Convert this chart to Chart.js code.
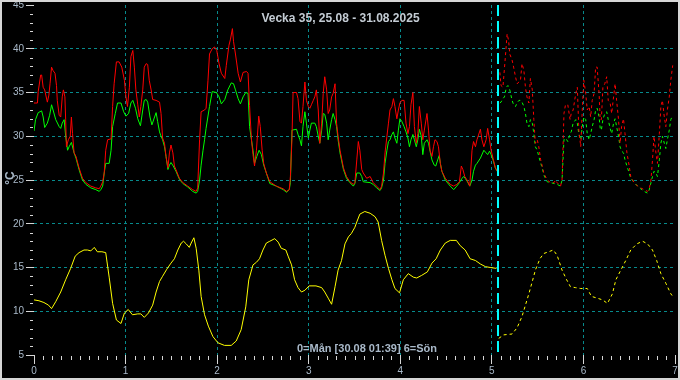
<!DOCTYPE html>
<html>
<head>
<meta charset="utf-8">
<script src="https://cdn.jsdelivr.net/npm/chart.js@4/dist/chart.umd.min.js"></script>
<style>
html, body { margin: 0; padding: 0; background: #000; }
#frame { width: 680px; height: 380px; box-sizing: border-box; border: 2px solid #d6d6d6; background: #000; }
canvas { display: block; }
</style>
</head>
<body>
<div id="frame"><canvas id="weekChart" width="676" height="376"></canvas></div>
<script>
// values as [hour since Monday 00:00, °C]
const redMeasured = [[0,33.8],[0.9,33.8],[1.1,35.1],[1.75,37.0],[2.0,37.0],[2.4,35.6],[2.8,35.3],[3.5,33.9],[3.9,34.7],[4.2,36.0],[4.6,37.9],[5.0,37.5],[5.5,37.2],[5.9,35.8],[6.1,34.1],[6.6,32.4],[7.0,32.2],[7.4,34.5],[7.7,35.3],[8.1,34.5],[8.3,31.9],[8.5,28.8],[9.0,29.6],[9.5,30.0],[9.8,32.2],[10.1,30.3],[10.5,28.1],[11.0,27.7],[11.8,26.4],[12.7,25.2],[13.6,24.7],[14.9,24.3],[16.2,24.1],[17.1,24.0],[17.5,24.3],[18.0,24.8],[18.4,25.8],[18.8,28.4],[19.3,29.6],[20.2,29.7],[20.6,33.4],[21.0,36.0],[21.6,38.5],[22.3,38.5],[23.0,37.9],[23.7,36.4],[24.1,34.5],[24.5,33.4],[25.0,35.6],[25.4,39.1],[25.9,39.8],[26.3,37.9],[26.7,35.3],[27.2,33.6],[27.6,32.2],[28.0,33.4],[28.5,35.3],[28.9,37.9],[29.4,38.3],[29.8,38.2],[30.2,36.4],[30.7,35.3],[31.1,34.2],[32.0,34.1],[32.9,33.9],[33.3,32.6],[33.7,29.8],[34.2,29.2],[34.6,27.7],[35.1,26.4],[35.5,28.1],[35.9,29.0],[36.4,28.1],[36.8,26.6],[37.2,26.2],[38.1,25.2],[39.0,24.7],[40.3,24.3],[41.6,23.9],[42.5,23.7],[42.9,24.1],[43.4,29.6],[43.8,32.8],[44.7,33.0],[45.1,33.2],[45.6,36.4],[46.0,39.4],[46.7,40.0],[47.3,40.2],[47.9,39.8],[48.5,38.3],[49.1,37.2],[50.0,36.6],[50.4,38.1],[51.1,40.4],[51.5,41.1],[52.0,42.3],[52.3,40.8],[52.8,39.4],[53.5,37.2],[54.1,36.2],[54.8,37.3],[55.7,37.4],[56.1,37.2],[56.5,33.5],[57.0,29.6],[57.4,27.9],[57.8,26.6],[58.3,28.4],[58.9,32.3],[59.3,31.1],[59.8,28.4],[60.2,26.9],[60.9,25.8],[61.8,24.8],[63.5,24.3],[65.3,24.0],[66.2,23.7],[66.9,23.9],[67.2,25.4],[67.6,29.6],[67.9,35.0],[68.8,35.0],[69.2,34.3],[69.7,31.7],[70.1,31.5],[70.5,33.4],[71.0,36.2],[71.4,34.1],[71.9,33.4],[72.3,33.2],[72.7,33.6],[73.2,34.1],[73.6,34.5],[74.0,35.3],[74.5,33.0],[74.9,29.2],[75.4,31.5],[75.8,34.9],[76.2,36.8],[76.7,35.3],[77.1,32.6],[77.5,33.0],[78.0,34.5],[78.4,34.9],[78.9,36.0],[79.3,31.5],[79.7,30.0],[80.2,28.4],[81.1,26.4],[81.9,25.4],[82.8,24.8],[83.7,24.5],[84.1,24.7],[84.6,27.3],[85.0,29.4],[85.4,28.4],[85.9,26.2],[86.3,25.8],[87.2,25.2],[88.1,25.4],[88.9,24.7],[89.8,24.3],[90.7,23.9],[91.1,24.3],[91.6,25.8],[92.0,28.1],[92.5,30.0],[92.9,31.5],[93.3,33.0],[93.8,33.4],[94.2,34.3],[94.6,33.4],[95.1,32.0],[95.5,33.0],[95.9,33.8],[96.4,34.1],[97.0,34.1],[97.5,31.5],[98.0,30.3],[98.4,31.1],[98.8,33.6],[99.3,35.0],[99.7,31.1],[100.2,29.2],[100.6,30.3],[101.0,33.4],[101.5,31.5],[101.9,29.6],[102.3,30.7],[103.0,32.6],[103.4,30.7],[103.8,28.4],[104.3,27.7],[104.7,28.8],[105.1,29.6],[105.6,29.4],[106.0,28.8],[106.5,26.9],[106.9,26.0],[107.8,25.2],[109.1,24.5],[110.0,24.3],[110.8,24.5],[111.5,24.8],[112.0,26.6],[112.4,26.2],[112.9,25.4],[113.5,25.0],[114.2,24.3],[114.8,28.4],[115.2,29.4],[115.7,28.8],[116.1,29.6],[117.0,30.8],[117.4,29.6],[117.9,28.8],[118.5,29.6],[118.9,30.9],[119.4,29.6],[119.8,28.4],[120.3,27.5],[120.9,26.4],[121.4,26.0]];

const greenMeasured = [[0,30.6],[0.4,31.9],[1.1,32.7],[2.0,32.9],[2.4,32.2],[2.8,31.0],[3.5,31.5],[4.1,32.4],[4.6,33.6],[5.0,33.0],[5.7,31.9],[6.6,31.1],[7.0,30.9],[7.4,31.5],[7.9,31.9],[8.3,30.0],[8.8,28.4],[9.2,28.8],[9.8,29.3],[10.5,28.1],[11.0,27.5],[11.8,26.2],[12.7,25.0],[13.6,24.5],[14.9,24.1],[16.2,23.9],[17.1,23.7],[17.5,23.9],[18.0,24.3],[18.4,25.8],[18.8,26.9],[19.7,26.9],[20.2,28.4],[20.6,31.1],[21.3,32.6],[21.9,33.8],[22.8,33.8],[23.5,32.8],[24.1,32.3],[24.8,32.6],[25.4,33.8],[25.9,34.1],[26.6,33.2],[27.2,32.0],[27.9,31.2],[28.5,33.0],[28.9,34.1],[29.4,34.2],[29.8,33.9],[30.4,32.2],[30.9,31.3],[31.6,32.2],[32.0,32.7],[32.4,31.7],[32.9,30.5],[33.3,30.0],[33.7,29.6],[34.2,28.8],[34.6,27.7],[35.1,26.2],[35.5,26.7],[35.9,27.0],[36.5,26.6],[37.2,26.0],[38.1,25.1],[39.0,24.6],[40.3,24.2],[41.6,23.7],[42.5,23.5],[42.9,23.7],[43.4,25.0],[43.8,26.7],[44.3,28.4],[44.7,29.6],[45.1,30.9],[46.0,33.4],[46.7,35.1],[47.8,35.0],[48.5,34.5],[49.1,33.7],[50.0,34.2],[50.8,35.3],[51.7,36.1],[52.3,36.0],[52.8,35.3],[53.5,34.3],[54.1,33.7],[54.8,34.5],[55.5,35.0],[56.1,34.9],[56.5,31.1],[57.0,29.6],[57.4,28.4],[57.8,26.9],[58.4,27.7],[59.0,28.4],[59.6,27.9],[60.2,26.7],[61.8,24.6],[63.5,24.3],[65.3,23.9],[66.2,23.6],[66.9,23.9],[67.2,24.7],[67.6,30.7],[68.8,30.8],[69.2,30.2],[69.7,29.6],[70.1,28.9],[70.5,31.1],[71.0,32.8],[71.4,31.5],[71.9,29.8],[72.3,30.7],[72.7,31.5],[73.6,31.5],[74.0,31.1],[74.5,30.0],[74.9,29.2],[75.4,30.7],[75.8,32.6],[76.2,32.5],[76.7,31.5],[77.1,29.6],[77.5,30.7],[78.0,31.9],[78.4,32.6],[78.9,31.9],[79.3,31.1],[79.7,29.6],[80.2,28.1],[81.1,26.2],[81.9,25.2],[82.8,24.7],[83.7,24.3],[84.1,24.6],[84.6,25.8],[85.4,25.8],[85.9,25.4],[86.3,24.8],[88.1,24.7],[88.9,24.5],[89.8,24.1],[90.7,23.8],[91.1,24.1],[91.6,25.0],[92.0,26.9],[92.5,28.4],[92.9,29.4],[93.3,29.6],[93.8,30.2],[94.2,30.5],[94.6,29.8],[95.1,29.2],[95.5,30.7],[95.9,32.0],[96.4,31.7],[97.0,31.1],[97.5,30.5],[98.0,29.8],[98.4,28.8],[98.8,29.6],[99.3,30.2],[99.7,29.6],[100.2,28.8],[100.6,29.6],[101.0,30.8],[101.5,30.0],[101.9,27.9],[102.3,29.2],[103.0,29.6],[103.4,29.2],[103.8,28.3],[104.3,27.3],[104.9,26.7],[105.3,26.6],[105.8,27.3],[106.2,27.8],[106.5,26.9],[106.9,26.0],[107.8,25.0],[109.1,24.3],[110.0,23.9],[110.8,24.3],[111.5,24.7],[112.2,25.2],[112.6,25.4],[113.0,25.2],[113.6,24.8],[114.2,24.3],[114.8,25.0],[115.2,26.0],[115.7,26.7],[116.1,26.9],[117.0,27.5],[117.9,28.4],[118.5,28.1],[118.9,27.9],[119.4,28.3],[119.8,27.9],[120.3,27.3],[120.9,26.4],[121.4,26.0]];

const yellowMeasured = [[0,11.3],[1.3,11.2],[2.6,11.0],[3.8,10.7],[4.6,10.3],[5.7,11.1],[7.0,12.2],[8.3,13.6],[9.6,14.9],[10.8,16.3],[11.8,16.7],[13.1,17.0],[14.0,17.0],[14.9,16.9],[15.8,17.3],[16.6,16.8],[17.8,16.8],[18.8,16.7],[19.7,13.9],[20.6,10.9],[21.6,9.0],[22.8,8.6],[23.7,9.8],[24.7,10.2],[25.8,9.6],[27.2,9.7],[28.0,9.7],[28.9,9.3],[30.0,9.8],[31.1,10.7],[32.0,12.2],[32.9,13.4],[33.7,14.0],[34.8,14.8],[35.9,15.5],[36.8,16.0],[37.7,17.0],[38.6,17.8],[39.2,18.0],[39.9,17.7],[40.7,17.3],[41.2,17.8],[41.9,18.4],[42.5,17.2],[43.2,14.7],[43.8,11.7],[44.7,9.6],[45.7,8.3],[46.9,7.1],[48.2,6.4],[49.9,6.1],[51.7,6.1],[53.0,6.6],[54.3,7.9],[55.5,10.5],[56.3,13.6],[57.4,15.3],[58.3,15.6],[59.1,16.0],[60.0,17.0],[60.9,17.8],[61.8,18.0],[63.1,18.3],[64.0,17.9],[64.8,17.2],[66.0,17.0],[66.6,16.3],[67.5,15.3],[68.3,13.6],[69.2,12.7],[70.1,12.2],[71.0,12.4],[72.1,12.9],[73.9,12.9],[75.4,12.7],[76.2,12.2],[77.1,11.5],[78.0,10.8],[78.9,12.8],[79.7,14.7],[80.6,15.8],[81.5,17.7],[82.4,18.5],[83.2,18.9],[84.1,19.6],[84.6,20.2],[85.4,21.1],[86.7,21.4],[88.1,21.2],[89.4,20.8],[90.2,20.2],[91.1,18.1],[92.0,16.4],[92.9,14.9],[93.8,13.6],[94.6,12.6],[95.8,12.1],[96.8,13.6],[98.1,14.3],[99.4,13.9],[100.3,13.8],[101.6,14.1],[103.1,14.5],[104.3,15.5],[105.4,16.0],[106.5,17.0],[107.8,17.8],[109.1,18.1],[110.7,18.1],[111.7,17.5],[113.0,17.0],[114.3,16.0],[115.7,15.8],[117.0,15.4],[118.3,15.1],[119.6,15.0],[121.2,14.9]];

const redForecast = [[122.1,37.3],[122.4,35.8],[122.9,35.6],[123.6,39.4],[124.0,41.7],[124.4,40.9],[124.7,39.4],[125.3,38.7],[125.7,37.9],[126.2,36.8],[126.6,36.0],[127.1,36.2],[127.5,36.4],[127.9,38.3],[128.4,37.5],[128.8,35.6],[129.2,34.5],[129.7,33.8],[130.1,36.6],[130.6,35.3],[131.0,31.9],[131.4,29.2],[131.9,29.6],[132.3,28.8],[132.8,27.3],[133.2,26.6],[133.6,25.8],[134.5,25.0],[135.4,24.7],[136.3,24.7],[136.7,25.0],[137.1,24.7],[138.0,24.3],[138.4,25.0],[138.9,32.6],[139.3,33.6],[139.9,33.6],[140.5,31.9],[140.8,32.6],[141.3,33.0],[142.0,34.9],[142.4,35.6],[142.8,30.7],[143.3,28.8],[143.7,33.0],[144.1,36.4],[144.6,34.9],[145.0,33.0],[145.5,33.4],[145.9,32.2],[146.3,34.1],[146.8,34.9],[147.2,37.9],[147.6,37.9],[148.1,34.9],[148.4,31.9],[148.7,31.9],[149.1,35.6],[149.6,36.0],[150.1,36.8],[150.5,34.1],[151.0,33.8],[151.4,32.6],[151.9,34.5],[152.3,36.0],[152.7,34.1],[153.2,31.9],[153.6,29.2],[154.0,31.1],[154.5,32.0],[154.9,30.3],[155.4,28.1],[156.0,26.6],[156.4,25.4],[157.3,24.7],[158.2,24.3],[159.0,24.1],[159.9,23.9],[160.8,23.7],[161.2,23.9],[161.7,25.0],[162.1,27.3],[162.5,30.0],[163.0,28.1],[163.4,26.9],[163.9,30.3],[164.3,33.4],[164.7,34.1],[165.2,32.2],[165.6,31.1],[166.0,33.0],[166.5,34.5],[166.9,36.4],[167.4,38.1]];

const greenForecast = [[122.1,33.8],[122.4,33.9],[122.9,34.3],[123.3,34.5],[123.8,35.6],[124.2,35.8],[124.7,35.3],[125.0,34.7],[125.3,34.1],[125.7,33.6],[126.2,33.4],[126.6,33.8],[127.1,34.1],[127.5,34.1],[127.9,33.9],[128.4,33.4],[128.8,32.6],[129.2,31.5],[129.7,31.1],[130.1,31.9],[130.6,31.5],[131.0,30.3],[131.4,28.8],[131.9,28.4],[132.3,27.7],[132.8,26.9],[133.2,26.4],[133.6,25.6],[134.5,24.8],[135.4,24.7],[136.3,24.6],[137.1,24.5],[138.0,24.3],[138.4,25.0],[138.9,29.6],[139.3,29.8],[139.9,29.4],[140.5,30.3],[140.8,30.5],[141.3,31.5],[142.0,31.9],[142.4,31.5],[142.8,30.2],[143.3,29.6],[143.7,31.1],[144.1,32.2],[144.6,31.9],[145.0,30.3],[145.5,29.6],[145.9,30.3],[146.3,31.1],[146.8,31.9],[147.2,33.0],[147.6,33.2],[148.1,32.2],[148.4,30.9],[148.7,30.7],[149.1,31.9],[149.6,32.6],[150.1,32.8],[150.5,31.9],[151.0,30.9],[151.4,30.3],[151.9,31.5],[152.3,32.0],[152.7,31.1],[153.2,30.0],[153.6,28.8],[154.0,28.3],[154.5,28.1],[154.9,27.3],[155.4,26.6],[156.0,25.8],[156.4,25.2],[157.3,24.7],[158.2,24.3],[159.0,24.0],[159.9,23.7],[160.8,23.5],[161.2,23.8],[161.7,24.7],[162.1,25.4],[162.5,26.0],[163.0,25.8],[163.4,25.4],[163.9,27.3],[164.3,29.2],[164.7,30.0],[165.2,29.2],[165.6,28.6],[166.0,29.6],[166.5,30.7],[166.9,31.9],[167.4,32.4]];

const yellowForecast = [[121.8,6.9],[123.1,7.3],[125.3,7.4],[126.6,8.1],[127.9,9.4],[128.8,10.7],[129.7,12.0],[130.6,13.4],[131.4,14.7],[132.6,16.0],[133.6,16.6],[134.9,16.8],[136.1,17.0],[137.1,16.4],[138.4,14.7],[139.6,13.6],[140.6,12.8],[141.9,12.7],[143.3,12.6],[145.0,12.6],[146.1,11.7],[147.6,11.5],[149.0,11.3],[150.3,10.9],[151.6,12.0],[152.5,13.6],[153.8,14.7],[155.1,15.8],[156.4,17.0],[158.0,17.7],[159.5,18.0],[160.8,17.7],[162.1,17.0],[163.2,15.8],[164.3,14.3],[165.6,13.2],[166.9,12.0],[167.4,11.7]];

const dayRange = [0, 7];        // 0=Mån ... 6=Sön
const tempRange = [5, 45];
const nowDay = 5 + (1 + 39 / 60) / 24;   // 30.08 01:39

const titleText = 'Vecka 35, 25.08 - 31.08.2025';
const footText = '0=Mån [30.08 01:39] 6=Sön';
const unitText = '°C';

const labelColor = '#a9b9c9';
const gridColor = '#078a8c';
const tickColor = '#d6d6d6';
const fontName = '"Liberation Sans", Arial, sans-serif';

function toPoints(arr) {
    return arr.map(p => ({ x: p[0] / 24, y: p[1] }));
}

function lineSet(arr, color, dashed) {
    return {
        data: toPoints(arr),
        borderColor: color,
        borderWidth: 1,
        borderDash: dashed ? [3, 3] : [],
        pointRadius: 0,
        tension: 0,
        fill: false
    };
}

// minor ticks, now-marker and texts
const decorations = {
    id: 'decorations',
    beforeDatasetsDraw(chart) {
        const ctx = chart.ctx;
        const area = chart.chartArea;
        const xs = chart.scales.x;
        const ys = chart.scales.y;
        ctx.save();
        ctx.strokeStyle = tickColor;
        ctx.lineWidth = 1;
        ctx.beginPath();
        for (let i = 1; i < 70; i++) {
            if (i % 10 === 0) continue;
            const px = Math.round(xs.getPixelForValue(i / 10)) + 0.5;
            ctx.moveTo(px, area.bottom + 1);
            ctx.lineTo(px, area.bottom + 5);
        }
        for (let v = 6; v < 45; v++) {
            if (v % 5 === 0) continue;
            const py = Math.round(ys.getPixelForValue(v)) + 0.5;
            ctx.moveTo(area.left - 4, py);
            ctx.lineTo(area.left - 1, py);
        }
        ctx.stroke();
        ctx.restore();
    },
    afterDatasetsDraw(chart) {
        const ctx = chart.ctx;
        const area = chart.chartArea;
        const xs = chart.scales.x;
        ctx.save();
        const nx = Math.round(xs.getPixelForValue(nowDay));
        ctx.strokeStyle = '#00ffff';
        ctx.lineWidth = 2;
        ctx.setLineDash([11, 5]);
        ctx.beginPath();
        ctx.moveTo(nx, area.top);
        ctx.lineTo(nx, area.bottom);
        ctx.stroke();
        ctx.setLineDash([]);

        ctx.fillStyle = '#c3cbd3';
        ctx.font = 'bold 12px ' + fontName;
        ctx.textAlign = 'center';
        ctx.textBaseline = 'middle';
        ctx.fillText(titleText, 338.5, 17);

        ctx.fillStyle = labelColor;
        ctx.font = 'bold 11px ' + fontName;
        ctx.textAlign = 'left';
        ctx.fillText(footText, 295, 347);

        ctx.translate(9, 176);
        ctx.rotate(-Math.PI / 2);
        ctx.font = 'bold 12px ' + fontName;
        ctx.textAlign = 'center';
        ctx.fillText(unitText, 0, 0);
        ctx.restore();
    }
};

new Chart(document.getElementById('weekChart'), {
    type: 'line',
    data: {
        datasets: [
            lineSet(yellowMeasured, '#ffff00', false),
            lineSet(yellowForecast, '#ffff00', true),
            lineSet(redMeasured, '#ff0000', false),
            lineSet(redForecast, '#ff0000', true),
            lineSet(greenMeasured, '#00ff00', false),
            lineSet(greenForecast, '#00ff00', true)
        ]
    },
    options: {
        responsive: false,
        animation: false,
        devicePixelRatio: 1,
        layout: { padding: { top: 3, right: 3, bottom: 0, left: 0 } },
        plugins: {
            legend: { display: false },
            title: { display: false },
            tooltip: { enabled: false }
        },
        scales: {
            x: {
                type: 'linear',
                min: dayRange[0],
                max: dayRange[1],
                ticks: {
                    stepSize: 1,
                    color: labelColor,
                    font: { family: fontName, size: 10 },
                    padding: 1,
                    maxRotation: 0,
                    autoSkip: false
                },
                grid: {
                    color: c => (c.tick && c.tick.value > dayRange[0] && c.tick.value < dayRange[1]) ? gridColor : 'rgba(0,0,0,0)',
                    tickColor: tickColor,
                    tickLength: 9,
                    lineWidth: 1
                },
                border: { display: false, dash: [3, 3] },
                afterFit: s => { s.height = 23; s.paddingLeft = 0; s.paddingRight = 0; }
            },
            y: {
                type: 'linear',
                min: tempRange[0],
                max: tempRange[1],
                ticks: {
                    stepSize: 5,
                    color: labelColor,
                    font: { family: fontName, size: 10 },
                    padding: 2
                },
                grid: {
                    color: c => (c.tick && c.tick.value > tempRange[0] && c.tick.value < tempRange[1]) ? gridColor : 'rgba(0,0,0,0)',
                    tickColor: tickColor,
                    tickLength: 8,
                    lineWidth: 1
                },
                border: { display: false, dash: [3, 3] },
                afterFit: s => { s.width = 32; s.paddingTop = 0; s.paddingBottom = 0; }
            }
        }
    },
    plugins: [decorations]
});
</script>
</body>
</html>
